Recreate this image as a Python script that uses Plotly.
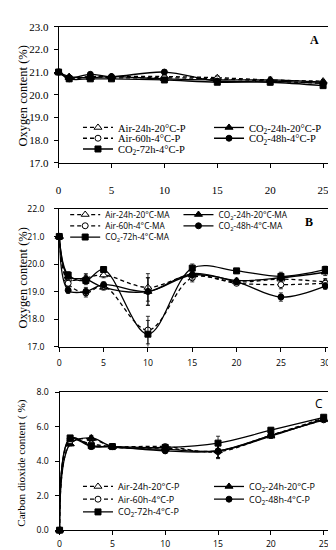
import plotly.graph_objects as go

# ---------------- data ----------------
names_P = ["Air-24h-20°C-P", "CO<sub>2</sub>-24h-20°C-P", "Air-60h-4°C-P",
           "CO<sub>2</sub>-48h-4°C-P", "CO<sub>2</sub>-72h-4°C-P"]
names_MA = ["Air-24h-20°C-MA", "CO<sub>2</sub>-24h-20°C-MA", "Air-60h-4°C-MA",
            "CO<sub>2</sub>-48h-4°C-MA", "CO<sub>2</sub>-72h-4°C-MA"]

days_A = [0, 1, 3, 5, 10, 15, 20, 25]
o2_A_air24 = [21.0, 20.75, 20.8, 20.8, 20.8, 20.75, 20.65, 20.6]
o2_A_co2_24 = [21.0, 20.8, 20.75, 20.8, 20.7, 20.65, 20.65, 20.55]
o2_A_air60 = [21.0, 20.7, 20.8, 20.75, 20.75, 20.7, 20.6, 20.5]
o2_A_co2_48 = [21.0, 20.75, 20.9, 20.8, 21.0, 20.6, 20.6, 20.5]
o2_A_co2_72 = [21.0, 20.7, 20.7, 20.7, 20.65, 20.55, 20.55, 20.4]
err_A = [0, 0.05, 0.05, 0.05, 0.08, 0.08, 0.12, 0.06]

days_B = [0, 1, 3, 5, 10, 15, 20, 25, 30]
o2_B_air24 = [21.0, 19.45, 19.5, 19.6, 19.15, 19.6, 19.35, 19.45, 19.35]
o2_B_co2_24 = [21.0, 19.55, 19.45, 19.15, 19.0, 19.65, 19.4, 19.5, 19.7]
o2_B_air60 = [21.0, 19.3, 18.95, 19.2, 17.6, 19.5, 19.3, 19.25, 19.3]
o2_B_co2_48 = [21.0, 19.05, 19.0, 19.25, 19.0, 19.6, 19.35, 18.8, 19.2]
o2_B_co2_72 = [21.0, 19.6, 19.4, 19.8, 17.45, 19.85, 19.75, 19.55, 19.8]
err_B = [0, 0.12, 0.15, 0.1, 0.5, 0.15, 0.08, 0.15, 0.12]

days_C = [0, 1, 3, 5, 10, 15, 20, 25]
co2_C_air24 = [0.0, 5.0, 5.3, 4.85, 4.75, 4.6, 5.5, 6.4]
co2_C_co2_24 = [0.0, 5.0, 5.35, 4.85, 4.7, 4.6, 5.45, 6.45]
co2_C_air60 = [0.0, 5.2, 5.0, 4.85, 4.85, 4.55, 5.5, 6.5]
co2_C_co2_48 = [0.0, 5.3, 4.85, 4.85, 4.6, 4.6, 5.5, 6.4]
co2_C_co2_72 = [0.0, 5.35, 4.9, 4.85, 4.8, 5.05, 5.8, 6.55]
err_C = [0, 0.1, 0.15, 0.05, 0.1, 0.4, 0.12, 0.1]

y_ticks_A = [17, 18, 19, 20, 21, 22, 23]
y_ticks_B = [17, 18, 19, 20, 21, 22]
y_ticks_C = [0, 2, 4, 6, 8]

# ---------------- styles ----------------
styles = [
    dict(dash="4px,3px", symbol="triangle-up", fill="white", size=7),
    dict(dash="solid", symbol="triangle-up", fill="black", size=7),
    dict(dash="4px,3px", symbol="circle", fill="white", size=6),
    dict(dash="solid", symbol="circle", fill="black", size=6),
    dict(dash="solid", symbol="square", fill="black", size=6),
]

W, H = 336, 550
def px(y):
    return 1 - y / H

fig = go.Figure()

panels = [
    dict(x=days_A, ys=[o2_A_air24, o2_A_co2_24, o2_A_air60, o2_A_co2_48, o2_A_co2_72],
         err=err_A, names=names_P, xa="x", ya="y"),
    dict(x=days_B, ys=[o2_B_air24, o2_B_co2_24, o2_B_air60, o2_B_co2_48, o2_B_co2_72],
         err=err_B, names=names_MA, xa="x2", ya="y2"),
    dict(x=days_C, ys=[co2_C_air24, co2_C_co2_24, co2_C_air60, co2_C_co2_48, co2_C_co2_72],
         err=err_C, names=names_P, xa="x3", ya="y3"),
]

legend_pos = [
    dict(c1=68, c2=201, rows=[116, 127, 138], font=dict(family="Liberation Serif", size=10.5, color="black")),
    dict(c1=55, c2=170, rows=[205, 216.5, 228], font=dict(family="Open Sans", size=8.3, color="black")),
    dict(c1=68, c2=201, rows=[483, 496, 509], font=dict(family="Open Sans", size=9, color="black")),
]
slots = [(0, 0), (1, 0), (0, 1), (1, 1), (0, 2)]  # (col,row) for each series

layout_legends = {}
k = 0
for pi, p in enumerate(panels):
    lp = legend_pos[pi]
    for si, (yv, nm) in enumerate(zip(p["ys"], p["names"])):
        k += 1
        lid = "legend" if k == 1 else f"legend{k}"
        st = styles[si]
        fig.add_trace(go.Scatter(
            x=p["x"], y=yv, name=nm, mode="lines+markers",
            xaxis=p["xa"], yaxis=p["ya"], legend=lid,
            line=dict(color="black", width=1.3, dash=st["dash"], shape="spline", smoothing=1),
            marker=dict(symbol=st["symbol"], size=st["size"], color=st["fill"],
                        line=dict(color="black", width=1)),
            error_y=dict(type="data", array=p["err"], visible=True, color="black", thickness=0.8, width=2),
            cliponaxis=False, hoverinfo="skip",
        ))
        col, row = slots[si]
        layout_legends[lid] = dict(
            x=(lp["c1"] if col == 0 else lp["c2"]) / W, y=px(lp["rows"][row]),
            xanchor="left", yanchor="middle", xref="paper", yref="paper",
            bgcolor="rgba(0,0,0,0)", borderwidth=0, font=lp["font"],
            itemwidth=30, tracegroupgap=0, itemclick=False,
        )

axis_common = dict(showline=True, linecolor="black", linewidth=1, mirror=True,
                   ticks="outside", ticklen=4, tickcolor="black", tickwidth=1,
                   showgrid=False, zeroline=False)

serif_tick = dict(family="Liberation Serif", size=11, color="black")
sans_tick = dict(family="Open Sans", size=8.7, color="black")

fig.update_layout(
    width=W, height=H, margin=dict(l=0, r=0, t=0, b=0),
    paper_bgcolor="white", plot_bgcolor="white", showlegend=True,
    xaxis=dict(domain=[48.3 / W, 325.4 / W], range=[0, 25.8], tickvals=[0, 5, 10, 15, 20, 25],
               anchor="y", tickfont=serif_tick, ticklabelstandoff=13, **axis_common),
    yaxis=dict(domain=[px(152), px(13)], range=[17, 23], tickvals=y_ticks_A, tickformat=".1f",
               anchor="x", tickfont=serif_tick, ticklabelstandoff=3, **axis_common),
    xaxis2=dict(domain=[49 / W, 321.7 / W], range=[0, 30.3], tickvals=[0, 5, 10, 15, 20, 25, 30],
                anchor="y2", tickfont=sans_tick, ticklabelstandoff=4, **axis_common),
    yaxis2=dict(domain=[px(340), px(199.3)], range=[17, 22], tickvals=y_ticks_B, tickformat=".1f",
                anchor="x2", tickfont=sans_tick, ticklabelstandoff=8, **axis_common),
    xaxis3=dict(domain=[49.3 / W, 326 / W], range=[0, 25.8], tickvals=[0, 5, 10, 15, 20, 25],
                anchor="y3", tickfont=sans_tick, ticklabelstandoff=1, **axis_common),
    yaxis3=dict(domain=[px(527.7), px(386.7)], range=[0, 8], tickvals=y_ticks_C, tickformat=".1f",
                anchor="x3", tickfont=sans_tick, ticklabelstandoff=4, **axis_common),
    **layout_legends,
)

ann = [
    dict(text="Oxygen content (%)", x=12.5 / W, y=px(84), textangle=-90,
         font=dict(family="Liberation Serif", size=12.5, color="black")),
    dict(text="Oxygen content (%)", x=12.5 / W, y=px(270), textangle=-90,
         font=dict(family="Liberation Serif", size=12.5, color="black")),
    dict(text="Carbon dioxide content ( %)", x=11 / W, y=px(459), textangle=-90,
         font=dict(family="Liberation Serif", size=11.2, color="black")),
    dict(text="<b>A</b>", x=308 / W, y=px(27), font=dict(family="Liberation Serif", size=12, color="black")),
    dict(text="<b>B</b>", x=303 / W, y=px(213), font=dict(family="Liberation Serif", size=12, color="black")),
    dict(text="C", x=313 / W, y=px(398), font=dict(family="Open Sans", size=12, color="black")),
]
for a in ann:
    fig.add_annotation(xref="paper", yref="paper", showarrow=False, xanchor="center", yanchor="middle", **a)

fig.write_html("out.html")
